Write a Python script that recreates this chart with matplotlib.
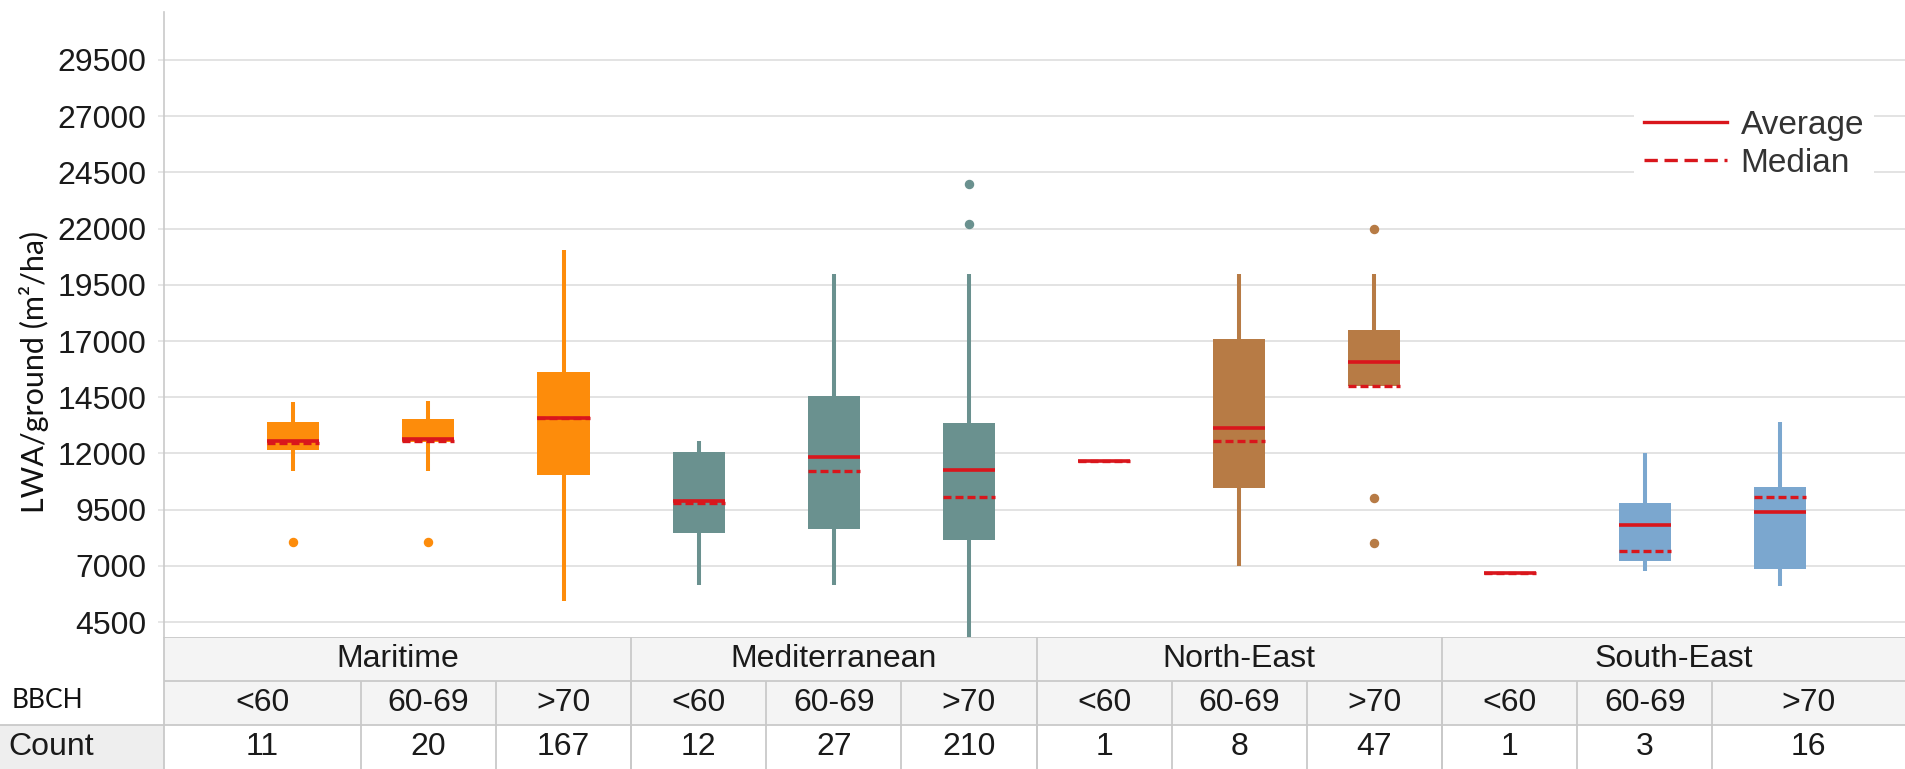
import numpy as np
import matplotlib
matplotlib.use("Agg")
import matplotlib.pyplot as plt
from matplotlib.patches import Rectangle
from matplotlib.lines import Line2D

# Data
regions = ["Maritime", "Mediterranean", "North-East", "South-East"]
bbch = ["<60", "60-69", ">70"]
counts = [11, 20, 167, 12, 27, 210, 1, 8, 47, 1, 3, 16]

whislo = [11200, 11200, 5450, 6150, 6150, 3850, 11650, 6970, 15000, 6700, 6750, 6100]
q1 = [12150, 12500, 11050, 8480, 8630, 8130, 11650, 10450, 15000, 6700, 7200, 6850]
median = [12480, 12560, 13570, 9800, 11230, 10050, 11650, 12560, 15000, 6700, 7650, 10060]
average = [12560, 12640, 13570, 9880, 11850, 11260, 11650, 13110, 16050, 6700, 8810, 9410]
q3 = [13400, 13550, 15600, 12050, 14550, 13360, 11650, 17100, 17480, 6700, 9810, 10500]
whishi = [14300, 14330, 21050, 12560, 20000, 20000, 11650, 20000, 20000, 6700, 12000, 13380]
fliers = [[8050], [8050], [], [], [], [22200, 24000], [], [], [22000, 10000, 8000], [], [], []]

region_colors = ["#fd8c0b", "#6a918f", "#b77b45", "#7ba7cf"]
RED = "#d9161c"
GRID = "#e3e3e3"
BORDER = "#c9c9c9"
FS = 23

W, H = 1905, 769
fig = plt.figure(figsize=(W / 100, H / 100), dpi=100)

# layout in pixels
ax_left, ax_top, ax_bottom = 164, 12, 637
ax = fig.add_axes([ax_left / W, 1 - ax_bottom / H, 1 - ax_left / W, (ax_bottom - ax_top) / H])

positions = np.arange(len(counts))
XL, XR = -0.956, 11.926
ax.set_xlim(XL, XR)
ax.set_ylim(3833, 31635)

for i in range(len(counts)):
    col = region_colors[i // 3]
    stats = [{
        "whislo": whislo[i], "q1": q1[i], "med": median[i], "q3": q3[i],
        "whishi": whishi[i], "mean": average[i], "fliers": fliers[i],
    }]
    ax.bxp(stats, positions=[positions[i]], widths=0.385, patch_artist=True,
           showmeans=True, meanline=True, showcaps=False,
           boxprops=dict(facecolor=col, edgecolor=col, linewidth=0),
           whiskerprops=dict(color=col, linewidth=2.9, solid_capstyle="butt"),
           flierprops=dict(marker="o", markersize=5.8, markerfacecolor=col,
                           markeredgecolor=col),
           medianprops=dict(color=RED, linewidth=2.4, linestyle=(0, (2.4, 1.2))),
           meanprops=dict(color=RED, linewidth=2.6, linestyle="-"),
           manage_ticks=False)

ax.set_yticks(np.arange(4500, 29501, 2500))
ax.set_xticks([])
ax.tick_params(axis="y", length=4.5, color=GRID, width=1.2, pad=8,
               labelsize=FS, labelcolor="#1a1a1a")
for lab in ax.get_yticklabels():
    lab.set_fontfamily("Liberation Sans")
ax.yaxis.grid(True, color=GRID, linewidth=1.4)
ax.set_axisbelow(True)
for s in ["top", "right", "bottom"]:
    ax.spines[s].set_visible(False)
ax.spines["left"].set_color(BORDER)
ax.spines["left"].set_linewidth(1.2)

ax.set_ylabel("LWA/ground (m²/ha)", fontsize=22, family="Lato", color="#111111")
ax.yaxis.set_label_coords(-0.066, 0.424)

handles = [Line2D([], [], color=RED, linewidth=2.4, linestyle="-"),
           Line2D([], [], color=RED, linewidth=2.4, linestyle=(0, (4, 2)))]
leg = ax.legend(handles, ["Average", "Median"], loc="upper left",
                bbox_to_anchor=(1634 / W, 1 - 100 / H), bbox_transform=fig.transFigure,
                frameon=True, fancybox=False, edgecolor="none", facecolor="white",
                framealpha=1, handlelength=2.5, handletextpad=0.4,
                labelspacing=0.2, borderpad=0.3, borderaxespad=0,
                prop={"family": "Liberation Sans", "size": 24})
for t in leg.get_texts():
    t.set_color("#333333")

# header table below the plot
tab = fig.add_axes([0, 0, 1, (H - ax_bottom) / H])
px_per_unit = (W - ax_left) / (XR - XL)
TL = XL - ax_left / px_per_unit
tab.set_xlim(TL, XR)
tab.set_ylim(0, 3)
tab.axis("off")

tab.add_patch(Rectangle((XL, 1), XR - XL, 2, facecolor="#f4f4f4", edgecolor="none"))
tab.add_patch(Rectangle((TL, 0), XL - TL, 1, facecolor="#eeeeee", edgecolor="none"))

lw = 1.3
tab.hlines([3, 2], XL, XR, color=BORDER, linewidth=lw)
tab.hlines(1, TL, XR, color=BORDER, linewidth=lw)
tab.vlines(XL, 0, 3, color=BORDER, linewidth=lw)
region_edges = [XL] + [2.5, 5.5, 8.5] + [XR]
col_edges = [XL] + list(positions[:-1] + 0.5) + [XR]
tab.vlines(region_edges[1:-1], 0, 3, color=BORDER, linewidth=lw)
tab.vlines(col_edges[1:-1], 0, 2, color=BORDER, linewidth=lw)

txt = dict(fontsize=FS, family="Liberation Sans", color="#1a1a1a", ha="center", va="center")
for r, name in enumerate(regions):
    tab.text((region_edges[r] + region_edges[r + 1]) / 2, 2.5, name, **txt)
for i in range(len(counts)):
    cx = (col_edges[i] + col_edges[i + 1]) / 2
    tab.text(cx, 1.5, bbch[i % 3], **txt)
    tab.text(cx, 0.5, str(counts[i]), **txt)

tab.text(TL + 8 / px_per_unit, 0.5, "Count", fontsize=FS, family="Liberation Sans",
         color="#1a1a1a", ha="left", va="center")
tab.text(TL + 12 / px_per_unit, 1.55, "BBCH", fontsize=19, family="Lato",
         color="#111111", ha="left", va="center")

fig.savefig("out.png", dpi=100)
